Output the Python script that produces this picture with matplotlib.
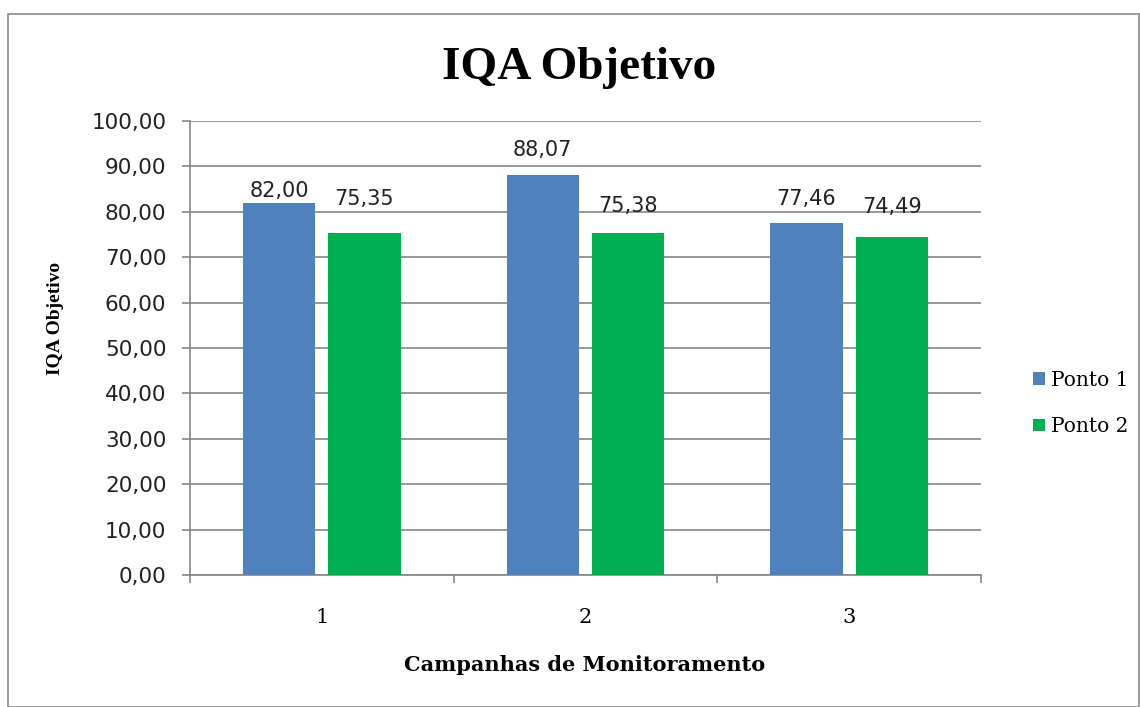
import matplotlib as mpl
mpl.use('Agg')
import matplotlib.pyplot as plt
from matplotlib.patches import Rectangle
import numpy as np

# data
campanhas = ['1', '2', '3']
ponto1 = [82.00, 88.07, 77.46]
ponto2 = [75.35, 75.38, 74.49]
series_names = ['Ponto 1', 'Ponto 2']
yticks = np.arange(0, 101, 10)

# label gaps above the bars (pt), as placed in the original
pad1 = [1.5, 11, 10]
pad2 = [17, 12, 14]

blue = '#4F81BD'
green = '#00B050'
grid_c = '#868686'
serif = 'Liberation Serif'


def fmt(v):
    return f'{v:.2f}'.replace('.', ',')


fig = plt.figure(figsize=(11.4, 7.07), dpi=100)
ax = fig.add_axes([190/1140, 1-575/707, (981-190)/1140, (575-121)/707])

x = np.arange(len(campanhas))
w = 0.275
off = 0.162
b1 = ax.bar(x - off, ponto1, w, color=blue, label=series_names[0], zorder=3)
b2 = ax.bar(x + off, ponto2, w, color=green, label=series_names[1], zorder=3)
for bars, pads in ((b1, pad1), (b2, pad2)):
    for rect, v, p in zip(bars, bars.datavalues, pads):
        ax.annotate(fmt(v), (rect.get_x() + rect.get_width()/2, v),
                    xytext=(0, p), textcoords='offset points', ha='center', va='bottom',
                    fontsize=15, family='DejaVu Sans', color='#222222')

ax.set_xlim(-0.5, 2.5)
ax.set_ylim(0, 100)
ax.set_yticks(yticks)
ax.set_yticklabels([fmt(v) for v in yticks], fontsize=15.5, family='DejaVu Sans')
ax.yaxis.grid(True, color=grid_c, linewidth=1.2, zorder=0)
ax.tick_params(axis='y', length=6, width=1.2, color=grid_c, pad=11, labelcolor='#222222')

ax.set_xticks(x)
ax.set_xticklabels(campanhas, fontsize=15, family='DejaVu Serif')
ax.set_xticks([-0.5, 0.5, 1.5, 2.5], minor=True)
ax.tick_params(axis='x', which='major', length=0, pad=24)
ax.tick_params(axis='x', which='minor', length=6, width=1.2, color=grid_c)

for s in ['top', 'right']:
    ax.spines[s].set_visible(False)
for s in ['left', 'bottom']:
    ax.spines[s].set_color(grid_c)
    ax.spines[s].set_linewidth(1.2)

fig.text(579/1140, 1-68/707, 'IQA Objetivo', ha='center', va='center',
         fontsize=34, fontweight='bold', family=serif)
fig.text(585/1140, 1-665/707, 'Campanhas de Monitoramento', ha='center', va='center',
         fontsize=15, fontweight='bold', family='DejaVu Serif')
fig.text(55/1140, 1-318/707, 'IQA Objetivo', ha='center', va='center', rotation=90,
         fontsize=14, fontweight='bold', family=serif)

ax.legend(loc='center left', bbox_to_anchor=(1023/1140, 1-403.5/707),
          bbox_transform=fig.transFigure, frameon=False, borderpad=0,
          prop={'family': 'DejaVu Serif', 'size': 14.5},
          handlelength=0.6, handleheight=0.6, handletextpad=0.3, labelspacing=1.35)

fig.patches.append(Rectangle((8/1140, 0.5/707), (1139-8)/1140, (707-14.5)/707,
                             transform=fig.transFigure, fill=False,
                             edgecolor='#8c8c8c', linewidth=1.2))

plt.savefig('out.png', dpi=100)
